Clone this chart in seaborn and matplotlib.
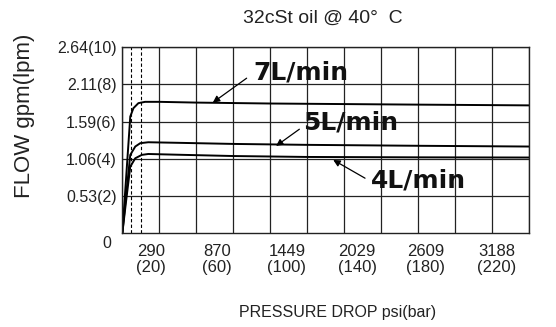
import numpy as np
import pandas as pd
import seaborn as sns
import matplotlib.pyplot as plt

sns.set_theme(style="white")
plt.rcParams['font.family'] = ['Liberation Sans', 'DejaVu Sans']

# pressure drop in bar, flow in lpm
bar_7 = [0, 2, 4.3, 6, 8.7, 12.3, 20, 40, 80, 120, 160, 220]
lpm_7 = [0, 2.9, 6.27, 6.72, 6.99, 7.06, 7.06, 7.02, 6.97, 6.94, 6.91, 6.87]
bar_5 = [0, 2, 4.3, 7, 9.7, 14, 30, 60, 100, 160, 220]
lpm_5 = [0, 2.0, 4.21, 4.66, 4.84, 4.89, 4.86, 4.8, 4.75, 4.7, 4.66]
bar_4 = [0, 2, 4.3, 7, 10.5, 14, 30, 60, 100, 160, 220]
lpm_4 = [0, 1.7, 3.58, 4.03, 4.21, 4.26, 4.22, 4.15, 4.1, 4.08, 4.07]

xtick_pos = [15.5, 51.2, 89.0, 126.9, 164.1, 202.5]
xtick_labels = ["290\n(20)", "870\n(60)", "1449\n(100)", "2029\n(140)", "2609\n(180)", "3188\n(220)"]
ytick_pos = [2, 4, 6, 8, 10]
ytick_labels = ["0.53(2)", "1.06(4)", "1.59(6)", "2.11(8)", "2.64(10)"]
dash_pos = [4.7, 10]

df = pd.concat([
    pd.DataFrame({"bar": bar_7, "lpm": lpm_7, "curve": "7L/min"}),
    pd.DataFrame({"bar": bar_5, "lpm": lpm_5, "curve": "5L/min"}),
    pd.DataFrame({"bar": bar_4, "lpm": lpm_4, "curve": "4L/min"}),
])

fig, ax = plt.subplots(figsize=(5.56, 3.27), dpi=100)
fig.subplots_adjust(left=0.22, right=0.952, bottom=0.2865, top=0.856)

sns.lineplot(data=df, x="bar", y="lpm", hue="curve", palette=["black"] * 3,
             sort=False, legend=False, lw=1.4, ax=ax)

ax.set_xlim(0, 220)
ax.set_ylim(0, 10)
ax.set_xticks(xtick_pos)
ax.set_xticklabels(xtick_labels, fontsize=12, linespacing=1.05)
ax.set_xticks(np.arange(0, 221, 20), minor=True)
ax.set_yticks(ytick_pos)
ax.set_yticklabels(ytick_labels, fontsize=11.5)
ax.tick_params(which="both", length=0)
ax.tick_params(axis="x", pad=8, colors="#222")
ax.tick_params(axis="y", pad=4, colors="#222")

ax.grid(False)
ax.grid(which="minor", axis="x", color="#222", lw=0.9)
ax.grid(which="major", axis="y", color="#222", lw=0.9)
for s in ax.spines.values():
    s.set_color("#222")
    s.set_linewidth(1.0)
for d in dash_pos:
    ax.axvline(d, color="black", lw=0.8, ls=(0, (3, 2)))

ax.set_xlabel("")
ax.set_ylabel("")
ax.annotate("0", xy=(0, 0), xycoords="axes fraction", xytext=(-16, -10),
            textcoords="offset pixels", ha="center", va="center",
            fontsize=11.5, color="#222")

# curve labels with arrows
arrow = dict(arrowstyle="-|>", color="black", lw=0.9, mutation_scale=10, shrinkA=0, shrinkB=0)
ax.annotate("", xy=(48.9, 7.02), xytext=(67.2, 8.33), arrowprops=arrow)
ax.annotate("", xy=(83.1, 4.69), xytext=(95.7, 5.59), arrowprops=arrow)
ax.annotate("", xy=(114, 3.94), xytext=(131.2, 2.96), arrowprops=arrow)
lab = dict(fontsize=18, fontweight="bold", family="DejaVu Sans", color="#111",
           ha="center", va="center")
ax.text(96.5, 8.62, "7L/min", **lab)
ax.text(123.5, 5.93, "5L/min", **lab)
ax.text(160.3, 2.81, "4L/min", **lab)

fig.text(323 / 556, 1 - 18 / 327, "32cSt oil @ 40°  C", ha="center", va="center", fontsize=14, color="#222")
fig.text(25 / 556, 1 - 116 / 327, "FLOW gpm(lpm)", rotation=90, ha="center", va="center", fontsize=16, color="#222")
fig.text(338 / 556, 1 - 313 / 327, "PRESSURE DROP psi(bar)", ha="center", va="center", fontsize=11.5, color="#222")

fig.savefig("out.png", dpi=100)
